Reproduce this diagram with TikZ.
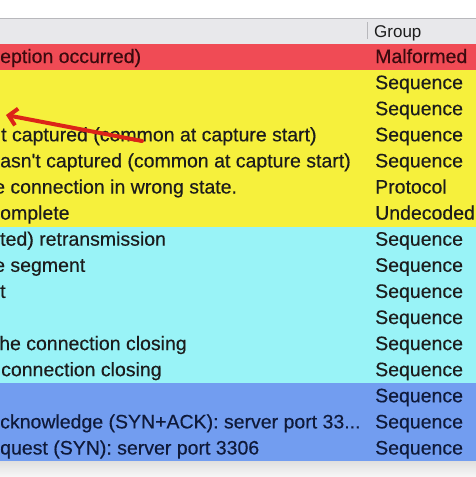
\documentclass[tikz,border=0pt]{standalone}
\usepackage{fontspec}
\setmainfont{Liberation Sans}
\newfontfamily\cellfont[FakeBold=0.35]{Liberation Sans}
\usetikzlibrary{arrows.meta}

\definecolor{hdrgray}{HTML}{E8E8EB}
\definecolor{linegray}{HTML}{B8B8BC}
\definecolor{malred}{HTML}{F04B55}
\definecolor{seqyellow}{HTML}{F6F03C}
\definecolor{seqcyan}{HTML}{99F3F7}
\definecolor{seqblue}{HTML}{729DF0}
\definecolor{inktext}{HTML}{1C1C1C}
\definecolor{inkblue}{HTML}{0F1A3A}
\definecolor{inkred}{HTML}{3A0A0E}
\definecolor{markred}{HTML}{DC2418}

\tikzset{
  rowfill/.style={draw=none},
  celltext/.style={anchor=base west, inner sep=0pt, font=\cellfont\fontsize{19.5}{21}\selectfont, text=inktext},
  grouptext/.style={celltext},
  markarrow/.style={draw=markred, line width=4pt, line cap=round,
    -{Straight Barb[length=8pt, width=17pt, line width=4pt]}}
}

\begin{document}
\begin{tikzpicture}[x=1pt,y=-1pt]
	\useasboundingbox (0,0) rectangle (476,477);
	\clip (0,0) rectangle (476,477);

	% header
	\fill[white] (0,0) rectangle (476,18);
	\fill[hdrgray] (0,18) rectangle (476,44);
	\draw[linegray, line width=0.8pt] (0,18) -- (476,18);
	\draw[linegray, line width=0.8pt] (367,22) -- (367,39);
	\node[grouptext, font=\fontsize{17}{19}\selectfont] (hgroup) at (374,37) {Group};

	% row fills
	\fill[malred] (0,44) rectangle (476,70.1);
	\fill[seqyellow] (0,70.1) rectangle (476,226.7);
	\fill[seqcyan] (0,226.7) rectangle (476,383.3);
	\fill[seqblue] (0,383.3) rectangle (476,461.6);
	\shade[top color=black!12, bottom color=black!3] (0,461.6) rectangle (476,477);

	% description column
	\node[celltext, text=inkred] (d0) at (0,63) {eption occurred)};
	\node[celltext] (d3) at (1,141.3) {t captured (common at capture start)};
	\node[celltext] (d4) at (0,167.4) {asn\textquotesingle t captured (common at capture start)};
	\node[celltext] (d5) at (-6,193.5) {e connection in wrong state.};
	\node[celltext] (d6) at (0,219.6) {omplete};
	\node[celltext] (d7) at (0,245.7) {ted) retransmission};
	\node[celltext] (d8) at (-6,271.8) {e segment};
	\node[celltext] (d9) at (0,297.9) {t};
	\node[celltext] (d11) at (-1,350.1) {he connection closing};
	\node[celltext] (d12) at (1,376.2) {connection closing};
	\node[celltext, text=inkblue] (d14) at (0,428.4) {cknowledge (SYN+ACK): server port 33...};
	\node[celltext, text=inkblue] (d15) at (0,454.5) {quest (SYN): server port 3306};

	% group column
	\node[grouptext, text=inkred] (g0) at (375,63) {Malformed};
	\node[grouptext] (g1) at (375,89.1) {Sequence};
	\node[grouptext] (g2) at (375,115.2) {Sequence};
	\node[grouptext] (g3) at (375,141.3) {Sequence};
	\node[grouptext] (g4) at (375,167.4) {Sequence};
	\node[grouptext] (g5) at (375,193.5) {Protocol};
	\node[grouptext] (g6) at (375,219.6) {Undecoded};
	\node[grouptext] (g7) at (375,245.7) {Sequence};
	\node[grouptext] (g8) at (375,271.8) {Sequence};
	\node[grouptext] (g9) at (375,297.9) {Sequence};
	\node[grouptext] (g10) at (375,324) {Sequence};
	\node[grouptext] (g11) at (375,350.1) {Sequence};
	\node[grouptext] (g12) at (375,376.2) {Sequence};
	\node[grouptext, text=inkblue] (g13) at (375,402.3) {Sequence};
	\node[grouptext, text=inkblue] (g14) at (375,428.4) {Sequence};
	\node[grouptext, text=inkblue] (g15) at (375,454.5) {Sequence};

	% red marker arrow
	\coordinate (arrowtail) at (142,141);
	\coordinate (arrowtip) at (6,115);
	\draw[markarrow] (arrowtail) -- (arrowtip);
\end{tikzpicture}
\end{document}
